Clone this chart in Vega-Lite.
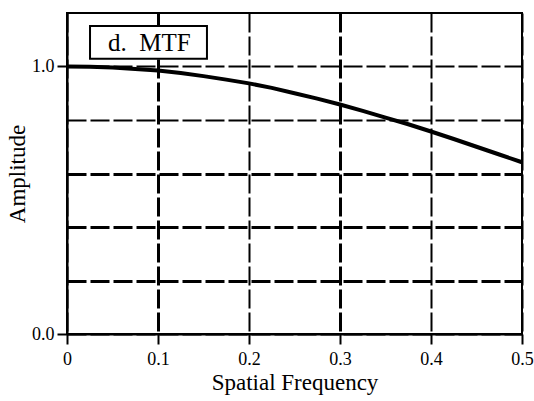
{
  "$schema": "https://vega.github.io/schema/vega-lite/v6.json",
  "autosize": {"type": "none"},
  "padding": {"left": 67, "top": 13, "right": 12, "bottom": 67},
  "width": 455,
  "height": 321,
  "background": "white",
  "config": {
    "font": "Liberation Serif",
    "text": {"font": "Liberation Serif"},
    "mark": {"font": "Liberation Serif"},
    "view": {"stroke": "black", "strokeWidth": 2},
    "axis": {
      "domainColor": "black",
      "domainWidth": 2,
      "tickColor": "black",
      "tickWidth": 2,
      "tickSize": 10,
      "labelFont": "Liberation Serif",
      "labelFontSize": 18,
      "labelColor": "black",
      "titleFont": "Liberation Serif",
      "titleFontSize": 23,
      "titleFontWeight": "normal",
      "titleColor": "black",
      "gridColor": "black",
      "gridOpacity": 1,
      "gridDash": [19, 4]
    }
  },
  "datasets": {
    "mtf": [
      {"f": 0.0, "a": 1.0},
      {"f": 0.025, "a": 0.999},
      {"f": 0.05, "a": 0.996},
      {"f": 0.075, "a": 0.991},
      {"f": 0.1, "a": 0.985},
      {"f": 0.125, "a": 0.976},
      {"f": 0.15, "a": 0.964},
      {"f": 0.175, "a": 0.951},
      {"f": 0.2, "a": 0.937},
      {"f": 0.225, "a": 0.92},
      {"f": 0.25, "a": 0.9},
      {"f": 0.275, "a": 0.88},
      {"f": 0.3, "a": 0.858},
      {"f": 0.325, "a": 0.834},
      {"f": 0.35, "a": 0.809},
      {"f": 0.375, "a": 0.784},
      {"f": 0.4, "a": 0.757},
      {"f": 0.425, "a": 0.729},
      {"f": 0.45, "a": 0.7},
      {"f": 0.475, "a": 0.671},
      {"f": 0.5, "a": 0.642}
    ],
    "label": [
      {"x": 0.0253, "x2": 0.1538, "y": 1.151, "y2": 1.029, "tx": 0.0905, "ty": 1.058, "text": "d.\u00a0\u00a0MTF"}
    ]
  },
  "layer": [
    {
      "data": {"name": "mtf"},
      "mark": {"type": "line", "color": "black", "strokeWidth": 4, "strokeCap": "butt"},
      "encoding": {
        "x": {
          "field": "f",
          "type": "quantitative",
          "scale": {"domain": [0, 0.5], "nice": false, "zero": false},
          "axis": {
            "title": "Spatial Frequency",
            "values": [0, 0.1, 0.2, 0.3, 0.4, 0.5],
            "labelExpr": "datum.value == 0 ? '0' : format(datum.value, '.1f')",
            "labelPadding": 6,
            "titlePadding": 3,
            "labelFlush": false,
            "labelOverlap": false,
            "grid": true,
            "gridWidth": {"condition": {"test": "datum.value == 0.1 || datum.value == 0.3", "value": 3}, "value": 2}
          }
        },
        "y": {
          "field": "a",
          "type": "quantitative",
          "scale": {"domain": [0, 1.2], "nice": false, "zero": false},
          "axis": {
            "title": "Amplitude",
            "values": [0, 0.2, 0.4, 0.6, 0.8, 1.0],
            "labelExpr": "datum.value == 0 || datum.value == 1 ? format(datum.value, '.1f') : ''",
            "tickOpacity": {"condition": {"test": "datum.value == 0 || datum.value == 1", "value": 1}, "value": 0},
            "labelPadding": 3,
            "titlePadding": 2,
            "labelFlush": false,
            "labelOverlap": false,
            "grid": true,
            "gridWidth": {"condition": {"test": "datum.value > 0.1 && datum.value < 0.7", "value": 3}, "value": 2}
          }
        }
      }
    },
    {
      "data": {"name": "label"},
      "mark": {"type": "rect", "fill": "white", "stroke": "black", "strokeWidth": 2},
      "encoding": {
        "x": {"field": "x", "type": "quantitative"},
        "x2": {"field": "x2"},
        "y": {"field": "y", "type": "quantitative"},
        "y2": {"field": "y2"}
      }
    },
    {
      "data": {"name": "label"},
      "mark": {"type": "text", "font": "Liberation Serif", "fontSize": 25, "color": "black", "align": "center", "baseline": "alphabetic"},
      "encoding": {
        "x": {"field": "tx", "type": "quantitative"},
        "y": {"field": "ty", "type": "quantitative"},
        "text": {"field": "text"}
      }
    }
  ]
}
